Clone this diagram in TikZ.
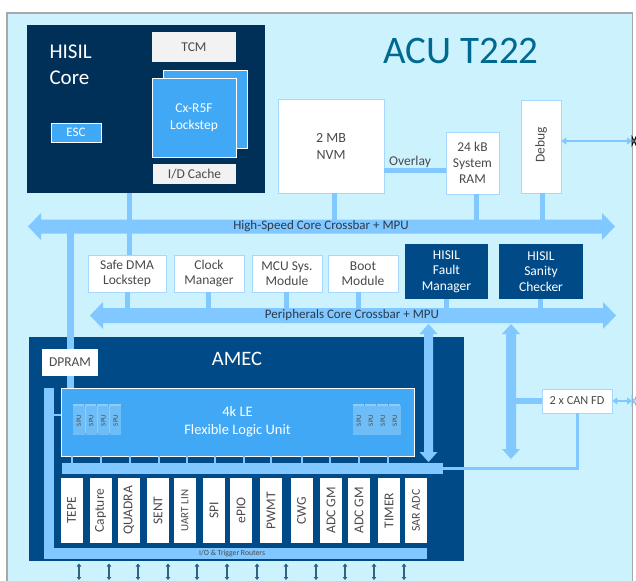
\documentclass[tikz,border=0pt]{standalone}
\usepackage{fontspec}
\setmainfont{Carlito}
\usetikzlibrary{arrows.meta}
\definecolor{bgc}{HTML}{CCF2FD}
\definecolor{edge}{HTML}{A8A8A8}
\definecolor{bus}{HTML}{80C8FF}
\definecolor{navya}{HTML}{003058}
\definecolor{navyb}{HTML}{004B87}
\definecolor{blu}{HTML}{41A8F5}
\definecolor{spuc}{HTML}{6EBDF6}
\definecolor{spush}{HTML}{8FCCF8}
\definecolor{lgray}{HTML}{F2F2F2}
\definecolor{txt}{HTML}{4A4A4A}
\definecolor{dtxt}{HTML}{2B3A4A}
\definecolor{boxline}{HTML}{A6D8FF}
\definecolor{titlec}{HTML}{00698F}
\definecolor{ioarrow}{HTML}{2D6482}
\tikzset{
  box/.style={draw=boxline, fill=white, line width=0.8pt, inner sep=0pt, text=txt, align=center, font=\fontsize{13.5}{15.5}\selectfont},
  navybox/.style={fill=navyb, inner sep=0pt, text=white, align=center, font=\fontsize{13.5}{15.5}\selectfont},
  bluebox/.style={fill=blu, draw=white, line width=0.8pt, inner sep=0pt, text=white, align=center, font=\fontsize{13.5}{17}\selectfont},
  graybox/.style={fill=lgray, inner sep=0pt, text=txt, font=\fontsize{13.5}{15.5}\selectfont},
  link/.style={draw=bus, line width=5pt},
  modbox/.style={fill=white, inner sep=0pt, rotate=90, minimum width=65pt, minimum height=22pt, text=txt, font=\fontsize{13.5}{15}\selectfont},
  spuback/.style={fill=spush, inner sep=0pt, minimum width=11.5pt, minimum height=29pt},
  spubox/.style={fill=spuc, inner sep=0pt, minimum width=11.5pt, minimum height=29pt, text=txt, font=\fontsize{6.8}{7}\selectfont},
  io/.style={draw=ioarrow, line width=1.3pt, {Triangle[length=3pt,width=4.5pt]}-{Triangle[length=3pt,width=4.5pt]}},
  extlink/.style={draw=bus, line width=2.5pt, {Triangle[length=5pt,width=7pt]}-{Triangle[length=5pt,width=7pt]}},
}
\begin{document}
\begin{tikzpicture}[x=1pt,y=-1pt]
\useasboundingbox (0,0) rectangle (636,580);
\fill[white] (0,0) rectangle (636,580);
% outer board
\draw[fill=bgc, draw=edge, line width=1.5pt] (7,13) rectangle (632.5,595);
\node[text=titlec, font=\fontsize{39}{42}\selectfont] (title) at (461,51) {ACU T222};

% HISIL core
\node[fill=navya, inner sep=0pt, minimum width=238pt, minimum height=168pt] (hcore) at (146,109) {};
\node[anchor=west, text=white, align=left, font=\fontsize{21}{26}\selectfont] (hctitle) at (46,65) {HISIL\\Core};
\node[graybox, minimum width=84pt, minimum height=30pt] (tcm) at (194,47) {TCM};
\node[bluebox, minimum width=84pt, minimum height=78pt] (r5fb) at (205,109) {};
\node[bluebox, minimum width=84pt, minimum height=79pt] (r5f) at (194,117.5) {Cx-R5F\\Lockstep};
\node[graybox, minimum width=83pt, minimum height=20pt] (cache) at (194.5,174) {I/D Cache};
\node[bluebox, minimum width=50pt, minimum height=19pt, font=\fontsize{13}{14}\selectfont] (esc) at (76,132.5) {ESC};

% memories
\node[box, minimum width=106pt, minimum height=94pt, font=\fontsize{14}{17}\selectfont] (nvm) at (331,146) {2 MB\\NVM};
\node[box, minimum width=53pt, minimum height=62pt, font=\fontsize{13.5}{16.3}\selectfont] (ram) at (472.5,163) {24 kB\\System\\RAM};
\node[box, minimum width=40pt, minimum height=93pt] (debug) at (541,146.5) {};
\node[rotate=90, text=txt, font=\fontsize{13.5}{15}\selectfont] (debugt) at (541,145) {Debug};
\coordinate (ovl) at (0,170.5);
\draw[link] (nvm.east |- ovl) -- (ram.west |- ovl);
\node[text=txt, font=\fontsize{13.5}{15}\selectfont] (ovlt) at (410,161.5) {Overlay};

% high speed bus
\coordinate (hs) at (0,226.5);
\draw[link] (hcore.south -| 129.5,0) -- (129.5,255);
\draw[link] ([xshift=3pt]nvm.south) -- ([xshift=3pt]nvm.south |- hs);
\draw[link] ([xshift=4pt]ram.south) -- ([xshift=4pt]ram.south |- hs);
\draw[link] ([xshift=1.5pt]debug.south) -- ([xshift=1.5pt]debug.south |- hs);
\draw[link, line width=7pt] (70.5,226.5) -- (70.5,388);
\fill[bus] (28,226.5) -- (41,213) -- (41,219.5) -- (602,219.5) -- (602,213) -- (615,226.5)
  -- (602,240) -- (602,233.5) -- (41,233.5) -- (41,240) -- cycle;
\node[text=dtxt, font=\fontsize{13}{15}\selectfont] (hslabel) at (321,226.5) {High-Speed Core Crossbar + MPU};

% debug external link
\coordinate (dbgport) at (632,141);
\draw[extlink] ([yshift=5.5pt]debug.east) -- (dbgport);
\draw[black, line width=0.7pt] (632,136.5) -- (636,145.5) -- (636,136.5) -- (632,145.5) -- cycle;

% peripherals
\node[box, minimum width=78pt, minimum height=37pt] (dma) at (127,273.5) {Safe DMA\\Lockstep};
\node[box, minimum width=70pt, minimum height=37pt] (clk) at (209,273.5) {Clock\\Manager};
\node[box, minimum width=70pt, minimum height=37pt] (mcu) at (287,273.5) {MCU Sys.\\Module};
\node[box, minimum width=70pt, minimum height=37pt] (boot) at (363,273.5) {Boot\\Module};
\node[navybox, minimum width=83pt, minimum height=55pt] (fault) at (446.5,271.5) {HISIL\\Fault\\Manager};
\node[navybox, minimum width=84pt, minimum height=55pt] (sanity) at (541,271.5) {HISIL\\Sanity\\Checker};
\coordinate (pb) at (0,315.5);
\draw[link] (dma.south) -- (dma.south |- pb);
\draw[link] ([xshift=-1pt]clk.south) -- ([xshift=-1pt]clk.south |- pb);
\draw[link] ([xshift=-1pt]mcu.south) -- ([xshift=-1pt]mcu.south |- pb);
\draw[link] ([xshift=-4.5pt]boot.south) -- ([xshift=-4.5pt]boot.south |- pb);
\draw[link] (fault.south) -- (fault.south |- pb);
\draw[link] ([xshift=-0.5pt]sanity.south) -- ([xshift=-0.5pt]sanity.south |- pb);
\fill[bus] (90,315.5) -- (103,302) -- (103,308) -- (603,308) -- (603,302) -- (616,315.5)
  -- (603,329) -- (603,323) -- (103,323) -- (103,329) -- cycle;
\node[text=dtxt, font=\fontsize{13}{15}\selectfont] (pblabel) at (352,315.5) {Peripherals Core Crossbar + MPU};

% AMEC
\node[fill=navyb, inner sep=0pt, minimum width=435pt, minimum height=224pt] (amec) at (246.5,449) {};
\node[text=white, font=\fontsize{20.5}{24}\selectfont] (amect) at (237,359) {AMEC};
\draw[link, line width=7pt] (70.5,336) -- (70.5,388);
\node[fill=white, inner sep=0pt, minimum width=56pt, minimum height=27pt, text=txt, font=\fontsize{13.5}{15}\selectfont] (dpram) at (70,362.5) {DPRAM};
% routers strip
\fill[bus] (44,388) rectangle (54,559);
\fill[bus] (44,548) rectangle (427,559);
\node[text=txt, font=\fontsize{7.7}{9}\selectfont] (iolabel) at (232,553.5) {I/O \& Trigger Routers};
% FLU
\node[bluebox, minimum width=353pt, minimum height=68pt, font=\fontsize{14.5}{18}\selectfont] (flu) at (237.5,422) {4k LE\\Flexible Logic Unit};
\draw[draw=bus, line width=2pt] (54,415) -- (flu.west |- 0,415);
\foreach \x/\n in {73.3/l1,85.5/l2,97.7/l3,109.9/l4,353.3/r1,365.3/r2,377.3/r3,389.3/r4}{
  \node[spuback] (sb\n) at (\x+5.0,418.5) {};
  \node[spubox] (spu\n) at (\x+5.75,420.5) {\rotatebox{90}{SPU}};
}
% bar under FLU
\fill[bus] (62,463) rectangle (443,474);
\foreach \x in {72,101,130,159,187,215,244,271,302,330,359,388}{
  \draw[draw=bus, line width=2pt] (\x,456) -- (\x,463);
}
% modules
\foreach \x/\t/\n in {71.5/TEPE/m1,100.5/Capture/m2,129/QUADRA/m3,158/SENT/m4,214/SPI/m6,241/ePIO/m7,271/PWMT/m8,301.5/CWG/m9,331/ADC GM/m10,359/ADC GM/m11,389/TIMER/m12}{
  \node[modbox] (\n) at (\x,510.5) {\t};
}
\node[modbox, font=\fontsize{11}{12}\selectfont] (m5) at (185,510.5) {UART LIN};
\node[modbox, font=\fontsize{12}{13}\selectfont] (m13) at (416,510.5) {SAR ADC};

% vertical arrows from peripheral bus
\fill[bus] (428.5,324) -- (437.5,334) -- (433,334) -- (433,452) -- (437.5,452) -- (428.5,462)
  -- (419.5,452) -- (424,452) -- (424,334) -- (419.5,334) -- cycle;
\fill[bus] (511,324) -- (520,334) -- (516,334) -- (516,449) -- (520,449) -- (511,459)
  -- (502,449) -- (506,449) -- (506,334) -- (502,334) -- cycle;
% CAN FD
\node[box, minimum width=70pt, minimum height=24pt, font=\fontsize{12.3}{14}\selectfont] (can) at (577,401) {2 x CAN FD};
\draw[draw=bus, line width=6pt] (515,401) -- (can.west);
\draw[draw=bus, line width=3pt] (442,468.5) -| (can.south);
\coordinate (canport) at (632,401);
\draw[extlink] (can.east) -- (canport);
\draw[draw=bus!80!gray, line width=0.7pt] (632,396.5) -- (636,405.5) -- (636,396.5) -- (632,405.5) -- cycle;

% I/O pins
\foreach \x in {79,109,138,168,197,227,257,286,316,345,374,404}{
  \draw[io] (\x,563.5) -- (\x,580);
}
\end{tikzpicture}
\end{document}
